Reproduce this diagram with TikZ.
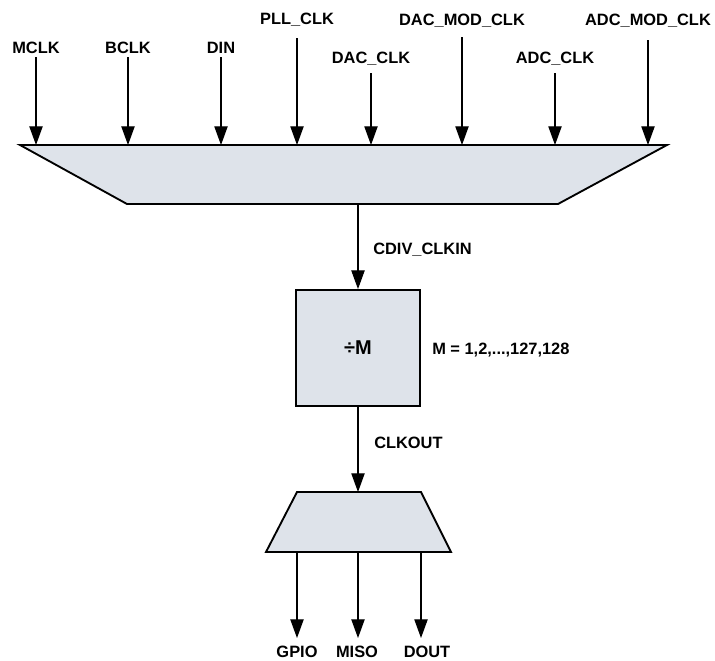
\documentclass[tikz,border=0pt]{standalone}
\usepackage{fontspec}
\setmainfont{Liberation Sans}
\usetikzlibrary{arrows.meta,positioning}
\definecolor{muxfill}{HTML}{DEE3EA}

\begin{document}
\begin{tikzpicture}[x=0.75pt, y=-0.75pt, >={Triangle[length=14pt,width=10pt]},
		font=\fontsize{12.3}{14}\selectfont\bfseries,
		sig/.style={->, line width=0.8pt},
		blk/.style={draw, line width=1.4pt, fill=muxfill, line join=miter}]
		\useasboundingbox (0,0) rectangle (715,661);
		% input mux
		\draw[blk] (20,145) -- (667,145) -- (558,204) -- (127,204) -- cycle;
		\foreach \x/\ys/\by/\name/\txt in {36/57/53/mclk/MCLK, 128/57/53/bclk/BCLK, 221/57/53/din/DIN,
			297/38/24/pll/PLL\_CLK, 371/73/63/dac/DAC\_CLK, 462/37/25/dacmod/DAC\_MOD\_CLK,
			555/73/63/adc/ADC\_CLK, 648/40/25/adcmod/ADC\_MOD\_CLK}{
			\node[anchor=base, inner sep=0pt] (\name) at (\x,\by) {\txt};
			\coordinate (\name s) at (\x,\ys);
			\coordinate (\name e) at (\x,145);
			\draw[sig] (\name s) -- (\name e);
		}
		% divider
		\coordinate (muxout) at (358,204);
		\node[blk, minimum width=93pt, minimum height=87pt, font=\fontsize{15}{17}\selectfont\bfseries] (div) at (358,348) {÷M};
		\draw[sig] (muxout) -- (div.north);
		\node[anchor=base west, inner sep=0pt] (cdiv) at (373,254) {CDIV\_CLKIN};
		\node[anchor=base west, inner sep=0pt] (mval) at (432,354) {M = 1,2,...,127,128};
		% output mux
		\draw[blk] (297,492) coordinate (omt) -- (421,492) -- (451,552) -- (266,552) -- cycle;
		\draw[sig] (div.south) -- (358,492) coordinate (omin);
		\node[anchor=base west, inner sep=0pt] (clkout) at (374,448) {CLKOUT};
		\foreach \x/\lx/\name/\txt in {297/297/gpio/GPIO, 358/357/miso/MISO, 421/427/dout/DOUT}{
			\coordinate (\name s) at (\x,552);
			\coordinate (\name e) at (\x,638);
			\draw[sig] (\name s) -- (\name e);
			\node[anchor=base, inner sep=0pt] (\name) at (\lx,657) {\txt};
		}
	\end{tikzpicture}
\end{document}
